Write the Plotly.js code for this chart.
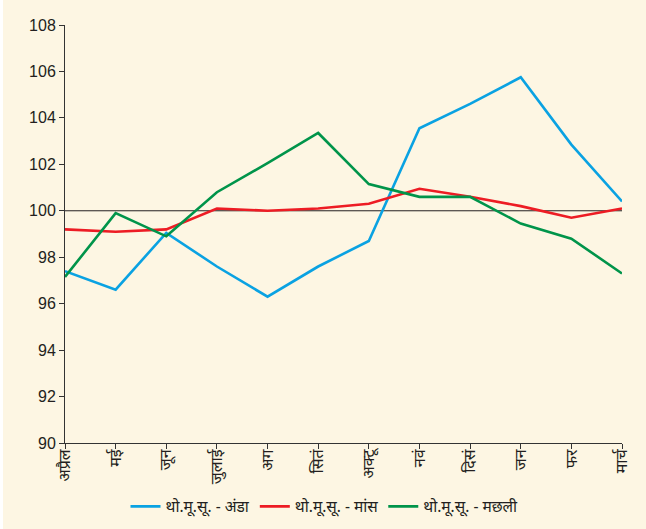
<!DOCTYPE html>
<html>
<head>
<meta charset="utf-8">
<script src="https://cdn.plot.ly/plotly-3.0.1.min.js"></script>
<style>
html,body{margin:0;padding:0;background:#ffffff;}
#chart{position:absolute;left:3px;top:0;width:643px;height:529px;}
</style>
</head>
<body>
<div id="chart"></div>
<script>
const months = ["अप्रैल","मई","जून","जुलाई","अग","सितं","अक्टू","नवं","दिसं","जन","फर","मार्च"];
const egg  = [97.4, 96.6, 99.05, 97.6, 96.3, 97.6, 98.7, 103.55, 104.6, 105.75, 102.85, 100.4];
const meat = [99.2, 99.1, 99.2, 100.1, 100.0, 100.1, 100.3, 100.95, 100.6, 100.2, 99.7, 100.1];
const fish = [97.15, 99.9, 98.9, 100.8, 102.05, 103.35, 101.15, 100.6, 100.6, 99.45, 98.8, 97.3];
const seriesNames = ["थो.मू.सू. - अंडा","थो.मू.सू. - मांस","थो.मू.सू. - मछली"];
const yTicks = [90,92,94,96,98,100,102,104,106,108];

const colors = ["#0aa2e2","#ed1c24","#00944a"];
const mk = (y,i)=>({x:months,y:y,type:"scatter",mode:"lines",name:seriesNames[i],
  line:{color:colors[i],width:2.6},cliponaxis:false});
const data=[mk(egg,0),mk(meat,1),mk(fish,2)];

const layout={
  width:643,height:529,
  paper_bgcolor:"#fdf6e3",plot_bgcolor:"#fdf6e3",
  margin:{l:62,r:24,t:25,b:86},
  font:{family:"'Noto Sans', sans-serif",color:"#231f20"},
  showlegend:true,
  legend:{orientation:"h",xref:"container",yref:"container",x:0.5,xanchor:"center",y:0.042,yanchor:"middle",
    font:{size:15.5,color:"#231f20"},bgcolor:"rgba(0,0,0,0)",itemwidth:30,tracegroupgap:0},
  xaxis:{type:"category",range:[0,11],showgrid:false,zeroline:false,showline:true,linecolor:"#333",linewidth:1,
    ticks:"outside",ticklen:5,tickcolor:"#333",tickangle:-90,ticklabelstandoff:-6,
    tickfont:{size:16,color:"#231f20"}},
  yaxis:{range:[90,108],tickvals:yTicks,showgrid:false,zeroline:false,showline:true,linecolor:"#333",linewidth:1,
    ticks:"outside",ticklen:5,tickcolor:"#333",
    tickfont:{family:"'Liberation Sans Narrow','Liberation Sans',sans-serif",size:16,color:"#231f20"}},
  shapes:[{type:"line",xref:"paper",x0:0,x1:1,yref:"y",y0:100,y1:100,line:{color:"#231f20",width:1},layer:"below"}]
};
Plotly.newPlot("chart",data,layout,{displayModeBar:false,staticPlot:true});
</script>
</body>
</html>
